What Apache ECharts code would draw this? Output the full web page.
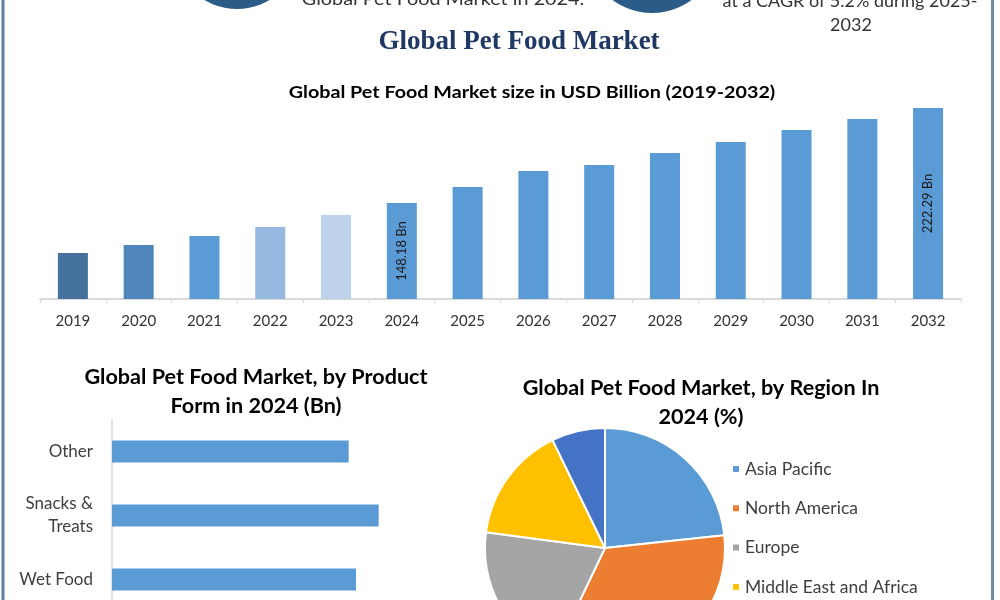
<!DOCTYPE html>
<html>
<head>
<meta charset="utf-8">
<title>Global Pet Food Market</title>
<script src="https://cdn.jsdelivr.net/npm/echarts@6/dist/echarts.min.js"></script>
<style>
    html, body { margin: 0; padding: 0; background: #ffffff; overflow: hidden; height: 600px; }
    /* taller than the window: the lower charts run off the bottom edge like in the source image */
    #chartMain { width: 1000px; height: 700px; }
</style>
</head>
<body>
<div id="chartMain"></div>
<script>
// market size by year (USD Bn)
const years = ['2019','2020','2021','2022','2023','2024','2025','2026','2027','2028','2029','2030','2031','2032'];
const marketSize = [109.2, 115.4, 122.4, 129.5, 138.8, 148.18, 160.7, 173.1, 177.8, 187.2, 195.8, 205.1, 213.7, 222.29];
const labelledYears = ['2024', '2032'];

// product form 2024 (Bn)
const productForms = ['Other', 'Snacks &\nTreats', 'Wet Food'];
const productValues = [35.5, 40.0, 36.6];

// region share 2024 (%)
const regions = ['Asia Pacific', 'North America', 'Europe', 'Middle East and Africa', 'Latin America'];
const regionShare = [23.3, 33.8, 20.0, 15.7, 7.2];

const barColors = ['#44729d', '#4e86bb', '#5b9bd5', '#97b8df', '#bed2ec'];
const regionColors = ['#5b9bd5', '#ed7d31', '#a5a5a5', '#ffc000', '#4472c4'];
const sans = 'Lato, "Open Sans", sans-serif';

const eChart = echarts.init(document.getElementById('chartMain'));

let sizeData = [];
for (let i = 0; i < years.length; i++) {
    let item = {
        value: marketSize[i],
        itemStyle: { color: barColors[i] || '#5b9bd5' }
    };
    if (labelledYears.indexOf(years[i]) > -1) {
        item.label = {
            show: true,
            position: 'inside',
            rotate: 90,
            formatter: marketSize[i].toFixed(2) + ' Bn',
            color: '#1a1a1a',
            fontSize: 13,
            fontFamily: sans
        };
    }
    sizeData.push(item);
}

let regionData = [];
for (let i = 0; i < regions.length; i++) {
    regionData.push({ name: regions[i], value: regionShare[i] });
}

// the source image is a little stretched sideways, so titles get a scaleX
function textEl(text, x, y, style, sx) {
    return {
        type: 'text',
        x: x,
        y: y,
        scaleX: sx || 1,
        style: Object.assign({
            text: text,
            align: 'center',
            verticalAlign: 'middle',
            fill: '#000000',
            fontFamily: sans
        }, style)
    };
}

const option = {
    backgroundColor: '#ffffff',
    animation: false,
    color: regionColors,
    grid: [
        { left: 40, right: 39, top: 100, bottom: 401 },
        { left: 112, top: 419.5, width: 400, height: 192 }
    ],
    xAxis: [
        {
            type: 'category',
            gridIndex: 0,
            data: years,
            axisLine: { lineStyle: { color: '#d9d9d9', width: 2 } },
            axisTick: { show: true, length: 4, lineStyle: { color: '#d9d9d9' } },
            axisLabel: { color: '#333333', fontSize: 15, fontFamily: sans, margin: 15 }
        },
        {
            type: 'value',
            gridIndex: 1,
            min: 0,
            max: 60,
            show: false
        }
    ],
    yAxis: [
        {
            type: 'value',
            gridIndex: 0,
            min: 73.3,
            max: 228.5,
            show: false
        },
        {
            type: 'category',
            gridIndex: 1,
            inverse: true,
            data: productForms,
            axisLine: { lineStyle: { color: '#d9d9d9', width: 1.5 } },
            axisTick: { show: false },
            axisLabel: { color: '#404040', fontSize: 17, fontFamily: sans, margin: 19, lineHeight: 23 }
        }
    ],
    legend: {
        orient: 'vertical',
        left: 731,
        top: 460,
        height: 220,
        padding: 0,
        icon: 'rect',
        itemWidth: 8,
        itemHeight: 8,
        itemGap: 21.3,
        data: regions,
        textStyle: { color: '#404040', fontSize: 17.5, fontFamily: sans, lineHeight: 18 }
    },
    series: [
        {
            type: 'bar',
            xAxisIndex: 0,
            yAxisIndex: 0,
            barWidth: 30,
            data: sizeData
        },
        {
            type: 'bar',
            xAxisIndex: 1,
            yAxisIndex: 1,
            barWidth: 22,
            itemStyle: { color: '#5b9bd5' },
            data: productValues
        },
        {
            type: 'pie',
            center: [605, 548],
            radius: 120,
            startAngle: 90,
            clockwise: true,
            label: { show: false },
            labelLine: { show: false },
            itemStyle: { borderColor: '#ffffff', borderWidth: 2 },
            data: regionData
        }
    ],
    graphic: [
        // page frame
        { type: 'line', shape: { x1: 3, y1: 0, x2: 3, y2: 700 }, style: { stroke: '#5f7fa0', lineWidth: 3 } },
        { type: 'line', shape: { x1: 992.5, y1: 0, x2: 992.5, y2: 700 }, style: { stroke: '#6d8aa3', lineWidth: 3 } },
        // bits of the header cut off above
        { type: 'circle', shape: { cx: 237, cy: -54, r: 63 }, style: { fill: '#2b5b87' } },
        { type: 'circle', shape: { cx: 652, cy: -53, r: 66 }, style: { fill: '#2b5b87' } },
        textEl('Global Pet Food Market in 2024.', 443, -1, { fontSize: 18, fill: '#333333' }, 1.1),
        textEl('at a CAGR of 5.2% during 2025-', 850, 1, { fontSize: 18, fill: '#333333' }),
        textEl('2032', 851, 25, { fontSize: 18, fill: '#333333' }),
        // titles
        textEl('Global Pet Food Market', 519, 42, {
            fontSize: 27, fontWeight: 'bold', fill: '#1f3864',
            fontFamily: '"Liberation Serif", "Times New Roman", serif'
        }),
        textEl('Global Pet Food Market size in USD Billion (2019-2032)', 532, 93, { fontSize: 17, fontWeight: 'bold' }, 1.16),
        textEl('Global Pet Food Market, by Product', 256, 378, { fontSize: 20, fontWeight: 'bold' }, 1.08),
        textEl('Form in 2024 (Bn)', 256, 407, { fontSize: 20, fontWeight: 'bold' }, 1.08),
        textEl('Global Pet Food Market, by Region In', 701, 389, { fontSize: 20, fontWeight: 'bold' }, 1.08),
        textEl('2024 (%)', 701, 418, { fontSize: 20, fontWeight: 'bold' }, 1.08)
    ]
};

eChart.setOption(option, true);
window.addEventListener('resize', () => { eChart.resize() });
</script>
</body>
</html>
